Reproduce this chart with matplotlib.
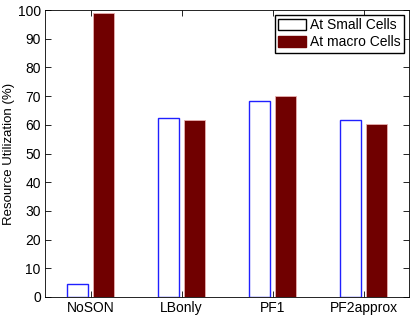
import numpy as np
import matplotlib.pyplot as plt
from matplotlib.patches import Patch

plt.rcParams['font.family'] = ['Liberation Sans', 'DejaVu Sans']
plt.rcParams['font.size'] = 10

categories = ['NoSON', 'LBonly', 'PF1', 'PF2approx']
small_cells = [4.7, 62.2, 68.2, 61.5]
macro_cells = [98.8, 61.7, 70.0, 60.4]
yticks = [0, 10, 20, 30, 40, 50, 60, 70, 80, 90, 100]

fig = plt.figure(figsize=(4.15, 3.15), dpi=100)
ax = fig.add_axes([45/415, 18/315, 364/415, 287/315])

x = np.arange(1, len(categories) + 1)
w = 0.23
ax.bar(x - 0.14, small_cells, w, facecolor='white', edgecolor='#2020ff', lw=1.0)
ax.bar(x + 0.14, macro_cells, w, facecolor='#700000', edgecolor='#e8b0b0', lw=0.6)

ax.set_xlim(0.5, 4.5)
ax.set_ylim(0, 100)
ax.set_xticks(x)
ax.set_xticklabels(categories)
ax.set_yticks(yticks)
ax.set_ylabel('Resource Utilization (%)', labelpad=2, fontsize=9.5)
ax.tick_params(direction='in', top=True, right=True, length=4, width=0.6, pad=3)
for s in ax.spines.values():
    s.set_linewidth(0.6)

handles = [Patch(facecolor='white', edgecolor='black', lw=1.0),
           Patch(facecolor='#700000', edgecolor='#700000')]
ax.legend(handles, ['At Small Cells', 'At macro Cells'], loc='upper right',
          fancybox=False, edgecolor='black', framealpha=1, borderaxespad=0.35,
          handlelength=2.0, handleheight=0.9, handletextpad=0.3, borderpad=0.25,
          labelspacing=0.2)

fig.savefig('out.png', dpi=100)
